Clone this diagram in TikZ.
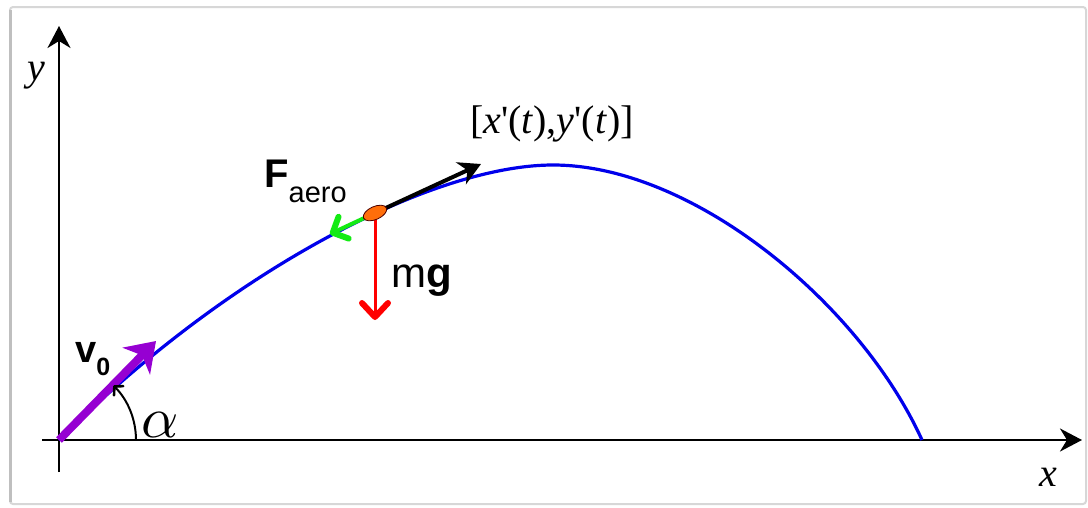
\documentclass[tikz,border=0pt]{standalone}
\usepackage{fontspec}
\setmainfont{Liberation Serif}
\setsansfont{Liberation Sans}
\usetikzlibrary{arrows.meta,shapes.geometric}
\definecolor{trajblue}{RGB}{0,0,235}
\definecolor{vzero}{RGB}{150,0,210}
\definecolor{aerogreen}{RGB}{20,235,20}
\definecolor{bodyorange}{RGB}{255,110,10}
\definecolor{framegray}{RGB}{215,215,215}
\tikzset{
  axis/.style={line width=2.4pt, -{Stealth[length=22pt,width=23pt,inset=7pt]}},
  traj/.style={trajblue, line width=3.2pt},
  vecv/.style={vzero, line width=8pt, -{Stealth[length=28pt,width=38pt,inset=8pt]}},
  vecblack/.style={black, line width=4pt, -{Stealth[length=22pt,width=24pt,inset=7pt]}},
  vecgreen/.style={aerogreen, line width=4pt, -{Straight Barb[length=12pt,width=24pt,line width=6pt,round]}},
  vecred/.style={red, line width=3pt, -{Straight Barb[length=14pt,width=26pt,line width=6pt,round]}},
  anglearc/.style={black, line width=2pt, -{Straight Barb[length=6pt,width=13pt,line width=2.6pt,round]}},
  lbl/.style={inner sep=0pt},
}
\begin{document}
\begin{tikzpicture}[x=1pt,y=-1pt]
\useasboundingbox (0,0) rectangle (1088,507);
\draw[framegray, line width=2pt, rounded corners=3pt, fill=white] (10,7) rectangle (1086,504);
\draw[black!25, line width=2.5pt] (10.5,10) -- (10.5,502);
% axes
\coordinate (ybot) at (59,472);
\coordinate (ytop) at (59,26);
\coordinate (xleft) at (42,440);
\coordinate (xright) at (1082,440);
\draw[axis] (ybot) -- (ytop);
\draw[axis] (xleft) -- (xright);
% trajectory
\coordinate (O) at (59,440);
\coordinate (P) at (553,165);
\coordinate (L) at (922,440);
\draw[traj] (O) .. controls (229,270) and (433,165) .. (P) .. controls (693,165) and (860,303.5) .. (L);
% initial velocity
\coordinate (v0tip) at (156,341);
\draw[vecv] (O) -- (v0tip);
% angle
\coordinate (arcstart) at (136,440);
\draw[anglearc] (arcstart) arc[start angle=0, end angle=-45, radius=77];
% body and forces
\coordinate (Ftip) at (481,164);
\coordinate (Gtip) at (330,234);
\coordinate (Wtip) at (375,320);
\draw[vecgreen] (375,213) -- (Gtip);
\draw[vecred] (375,219) -- (Wtip);
\draw[vecblack] (376,212.5) -- (Ftip);
\node[ellipse, draw=black!70!red, line width=0.8pt, fill=bodyorange, minimum width=25pt, minimum height=13pt, inner sep=0pt, rotate=24] (body) at (375,213) {};
% labels
\node[lbl] (ylab) at (36,76) {\fontsize{40}{44}\selectfont\itshape y};
\node[lbl] (xlab) at (1048,477) {\fontsize{40}{44}\selectfont\itshape x};
\node[lbl] (deriv) at (552,124) {\fontsize{40}{44}\selectfont [\textit{x}\textquotesingle(\textit{t}),\textit{y}\textquotesingle(\textit{t})]};
\node[lbl, anchor=base west] (Faero) at (264,187) {\sffamily\fontsize{40}{44}\selectfont\bfseries F\raisebox{-15pt}{\mdseries\fontsize{29}{30}\selectfont aero}};
\node[lbl, anchor=base west] (mg) at (391,287) {\sffamily\fontsize{42}{44}\selectfont m\textbf{g}};
\node[lbl, anchor=base west] (v0) at (75,362) {\sffamily\bfseries\fontsize{38}{40}\selectfont v\raisebox{-13pt}{\fontsize{25}{26}\selectfont 0}};
\node[lbl, anchor=base west, scale=5.8] (alpha) at (140,437) {$\alpha$};
\end{tikzpicture}
\end{document}
